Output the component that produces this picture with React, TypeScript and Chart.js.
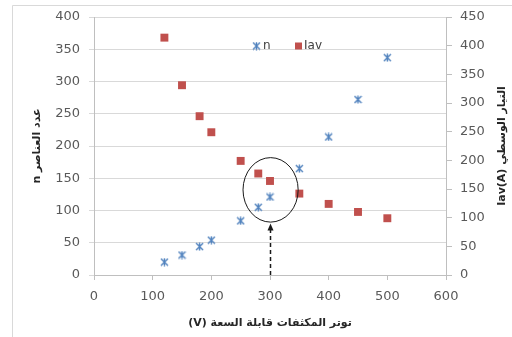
import React, { useEffect, useRef } from "react";
import { Chart, registerables } from "chart.js";

Chart.register(...registerables);

// ---- data ----
const voltages = [120, 150, 180, 200, 250, 280, 300, 350, 400, 450, 500];
const nValues = [20, 31, 44, 54, 84, 105, 121, 165, 214, 272, 337];
const iavValues = [414, 331, 277, 249, 199, 177, 164, 142, 124, 110, 99];

const seriesNames = ["n", "Iav"];
const xTitle = "(V) توتر المكثفات قابلة السعة";
const yLeftTitle = "n عدد العناصر";
const yRightTitle = "Iav(A) التيار الوسطي";

// annotation (data coordinates)
const markX = 300;
const ellipseCenter = { x: 301, y: 132 };
const ellipseRadius = { x: 47, y: 50 };
const arrowFromY = 0;
const arrowToY = 80;

const BLUE = "#4F81BD";
const RED = "#C0504D";
const FONT = "'DejaVu Sans', sans-serif";

function makeStar(size: number, color: string) {
  const c = document.createElement("canvas");
  c.width = size;
  c.height = size;
  const g = c.getContext("2d")!;
  g.strokeStyle = color;
  g.lineWidth = 1.4;
  const m = 1;
  g.beginPath();
  g.moveTo(m, m);
  g.lineTo(size - m, size - m);
  g.moveTo(size - m, m);
  g.lineTo(m, size - m);
  g.moveTo(size / 2, 0.5);
  g.lineTo(size / 2, size - 0.5);
  g.stroke();
  return c;
}

export default function App() {
  const ref = useRef<HTMLCanvasElement | null>(null);

  useEffect(() => {
    document.body.style.margin = "0";
    const star = makeStar(9, BLUE);

    const decor = {
      id: "decor",
      beforeDraw(chart: any) {
        const ctx = chart.ctx;
        ctx.save();
        ctx.fillStyle = "#ffffff";
        ctx.fillRect(0, 0, chart.width, chart.height);
        ctx.strokeStyle = "#d9d9d9";
        ctx.lineWidth = 1;
        ctx.beginPath();
        ctx.moveTo(12.5, chart.height + 2);
        ctx.lineTo(12.5, 5.5);
        ctx.lineTo(chart.width + 2, 5.5);
        ctx.stroke();
        ctx.restore();
      },
      afterDraw(chart: any) {
        const ctx = chart.ctx;
        const xs = chart.scales.x;
        const ys = chart.scales.y;
        const area = chart.chartArea;
        ctx.save();

        // ellipse
        const cx = xs.getPixelForValue(ellipseCenter.x);
        const cy = ys.getPixelForValue(ellipseCenter.y);
        const rx = Math.abs(xs.getPixelForValue(ellipseCenter.x + ellipseRadius.x) - cx);
        const ry = Math.abs(ys.getPixelForValue(ellipseCenter.y + ellipseRadius.y) - cy);
        ctx.strokeStyle = "#1a1a1a";
        ctx.lineWidth = 1;
        ctx.beginPath();
        ctx.ellipse(cx, cy, rx, ry, 0, 0, Math.PI * 2);
        ctx.stroke();

        // dashed arrow
        const ax = Math.round(xs.getPixelForValue(markX)) + 0.5;
        const y0 = ys.getPixelForValue(arrowFromY);
        const y1 = ys.getPixelForValue(arrowToY);
        ctx.setLineDash([4, 3]);
        ctx.lineWidth = 1.5;
        ctx.beginPath();
        ctx.moveTo(ax, y0);
        ctx.lineTo(ax, y1 + 5);
        ctx.stroke();
        ctx.setLineDash([]);
        ctx.fillStyle = "#1a1a1a";
        ctx.beginPath();
        ctx.moveTo(ax, y1);
        ctx.lineTo(ax - 3, y1 + 7);
        ctx.lineTo(ax + 3, y1 + 7);
        ctx.closePath();
        ctx.fill();

        // legend
        ctx.fillStyle = "#404040";
        ctx.font = `12px ${FONT}`;
        ctx.textBaseline = "middle";
        ctx.textAlign = "left";
        const ly = 46;
        ctx.drawImage(star, 252, ly - 4.5);
        ctx.fillText(seriesNames[0], 263, ly);
        ctx.fillStyle = RED;
        ctx.fillRect(295, ly - 3.5, 7, 7);
        ctx.fillStyle = "#404040";
        ctx.fillText(seriesNames[1], 304, ly);

        // titles
        ctx.fillStyle = "#262626";
        ctx.font = `bold 11px ${FONT}`;
        ctx.textAlign = "center";
        ctx.textBaseline = "middle";
        ctx.fillText(xTitle, (area.left + area.right) / 2, 323);

        const midY = (area.top + area.bottom) / 2;
        ctx.save();
        ctx.translate(37, midY);
        ctx.rotate(-Math.PI / 2);
        ctx.fillText(yLeftTitle, 0, 0);
        ctx.restore();

        ctx.save();
        ctx.translate(502, midY);
        ctx.rotate(-Math.PI / 2);
        ctx.fillText(yRightTitle, 0, 0);
        ctx.restore();

        ctx.restore();
      },
    };

    const tickFont = { family: FONT, size: 13 };
    const chart = new Chart(ref.current!, {
      type: "scatter",
      data: {
        datasets: [
          {
            label: seriesNames[0],
            data: voltages.map((v, i) => ({ x: v, y: nValues[i] })),
            pointStyle: star as any,
            pointRadius: 5,
            borderColor: BLUE,
            backgroundColor: BLUE,
            yAxisID: "y",
          },
          {
            label: seriesNames[1],
            data: voltages.map((v, i) => ({ x: v, y: iavValues[i] })),
            pointStyle: "rect",
            pointRadius: 5.6,
            borderWidth: 0,
            borderColor: RED,
            backgroundColor: RED,
            yAxisID: "y1",
          },
        ],
      },
      options: {
        responsive: false,
        animation: false,
        events: [],
        layout: { padding: { top: 17, left: 0, right: 0, bottom: 0 } },
        plugins: {
          legend: { display: false },
          tooltip: { enabled: false },
        },
        scales: {
          x: {
            type: "linear",
            min: 0,
            max: 600,
            ticks: { stepSize: 100, font: tickFont, color: "#595959", padding: 9, maxRotation: 0 },
            grid: { drawOnChartArea: false, tickLength: 5, tickColor: "#bfbfbf" },
            border: { display: true, color: "#bfbfbf" },
            afterFit: (s: any) => {
              s.height = 62;
            },
          },
          y: {
            type: "linear",
            position: "left",
            min: 0,
            max: 400,
            ticks: { stepSize: 50, font: tickFont, color: "#595959", padding: 9 },
            grid: { color: "#d9d9d9", tickLength: 5, tickColor: "#d9d9d9" },
            border: { display: true, color: "#bfbfbf" },
            afterFit: (s: any) => {
              s.width = 94;
            },
          },
          y1: {
            type: "linear",
            position: "right",
            min: 0,
            max: 450,
            ticks: { stepSize: 50, font: tickFont, color: "#595959", padding: 8 },
            grid: { drawOnChartArea: false, tickLength: 6, tickColor: "#bfbfbf" },
            border: { display: true, color: "#bfbfbf" },
            afterFit: (s: any) => {
              s.width = 66;
            },
          },
        },
      } as any,
      plugins: [decor],
    });
    return () => chart.destroy();
  }, []);

  return (
    <div style={{ position: "absolute", left: 0, top: 0, width: 512, height: 337 }}>
      <canvas ref={ref} width={512} height={337} style={{ display: "block" }} />
    </div>
  );
}
